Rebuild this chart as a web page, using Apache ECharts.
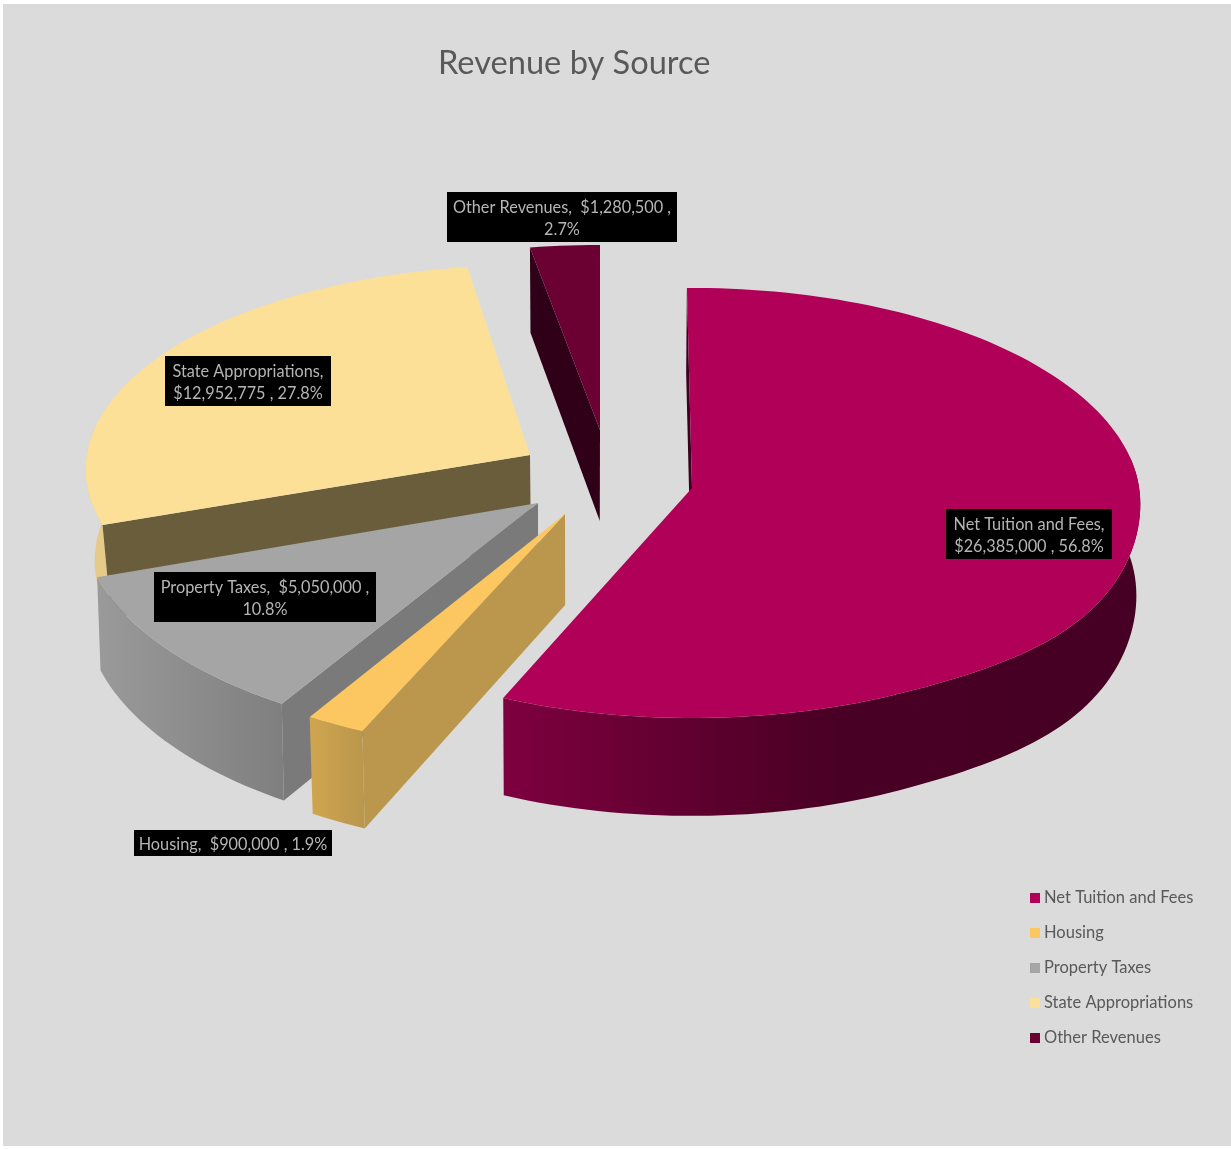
<!DOCTYPE html>
<html>
<head>
<meta charset="utf-8">
<style>
html,body{margin:0;padding:0;background:#fff;width:1231px;height:1149px;overflow:hidden}
#panel{position:absolute;left:3px;top:4px;width:1228px;height:1142px;background:#DBDBDB}
#chart{position:absolute;left:-3px;top:-4px;width:1231px;height:1149px}
</style>
<script src="https://cdn.jsdelivr.net/npm/echarts@6/dist/echarts.min.js"></script>
</head>
<body>
<div id="panel"><div id="chart"></div></div>
<script>
// ---- data ----
var categories = ['Net Tuition and Fees', 'Housing', 'Property Taxes', 'State Appropriations', 'Other Revenues'];
var revenues = [26385000, 900000, 5050000, 12952775, 1280500];
var labelLines = [
  ['Net Tuition and Fees,', '$26,385,000 , 56.8%'],
  ['Housing,  $900,000 , 1.9%'],
  ['Property Taxes,  $5,050,000 ,', '10.8%'],
  ['State Appropriations,', '$12,952,775 , 27.8%'],
  ['Other Revenues,  $1,280,500 ,', '2.7%']
];

// ---- layout and style ----
var FONT = 'Lato, "Open Sans", sans-serif';
var paintOrder = [4, 3, 2, 1, 0];
var apex = [[692, 488], [565, 514], [538, 503], [530, 455], [600, 430]];
var scaleX = [0.996, 1.04, 1.015, 0.987, 0.97];
var scaleY = [1, 1.04, 1.04, 0.95, 0.925];
var twistStart = [-0.7, 0, 1.0, 0.4, 0];
var twistEnd = [-0.7, 0, 1.0, 1.2, 0];
var frontBulge = [9, 0, 0, 0, 0];
var converge = [0.007, 0.011, 0.007, 0.018, 0.011];
var labelBox = [[946, 509, 166, 50], [134, 830, 198, 26], [154, 572, 222, 50], [165, 356, 166, 50], [447, 192, 230, 50]];
var topColor = ['#B00058', '#FCC760', '#A5A5A5', '#FDE097', '#6B0033'];
var cutColor = ['#3E001F', '#BA974C', '#7A7A7A', '#6A5D3C', '#2F0017'];
var wallStops = [
  [[0, '#7E003F'], [0.4, '#55002A'], [0.54, '#480024'], [1, '#460023']],
  [[0, '#D0A550'], [1, '#BA974C']],
  [[0, '#9A9A9A'], [0.6, '#8A8A8A'], [1, '#7F7F7F']],
  [[0, '#E6CB88'], [1, '#E6CB88']],
  [[0, '#2F0017'], [1, '#2F0017']]
];
var RX = 449, RY = 214, PERSPECTIVE = 0.0698, DEPTH = 91, CONVERGE_X = 580;

var total = revenues.reduce(function (a, b) { return a + b; }, 0);
var startDeg = [], endDeg = [];
(function () {
  var c = 0;
  revenues.forEach(function (v, i) {
    startDeg[i] = c + twistStart[i];
    c += v / total * 360;
    endDeg[i] = c + twistEnd[i];
  });
})();

function bulgeAt(i, deg) {
  if (deg <= 85 || deg >= 155) return 0;
  var s = Math.sin(Math.PI * (deg - 85) / 70);
  return frontBulge[i] * s * s;
}
function projectTop(i, deg, r) {
  var t = deg * Math.PI / 180;
  var w = 1 + PERSPECTIVE * r * Math.cos(t);
  return [
    apex[i][0] + RX * r * scaleX[i] * Math.sin(t) / w,
    apex[i][1] - RY * r * scaleY[i] * Math.cos(t) / w + r * bulgeAt(i, deg),
    w
  ];
}
function projectBottom(i, deg, r) {
  var p = projectTop(i, deg, r);
  return [p[0] - (p[0] - CONVERGE_X) * converge[i], p[1] + DEPTH / p[2]];
}
function poly(points, fill) {
  return { type: 'polygon', shape: { points: points }, style: { fill: fill }, silent: true };
}
function arcDegs(i) {
  var out = [], a = startDeg[i], b = endDeg[i], n = Math.max(2, Math.ceil((b - a) / 1.5));
  for (var k = 0; k <= n; k++) out.push(a + (b - a) * k / n);
  return out;
}

function sliceRender(i) {
  return function () {
    var degs = arcDegs(i);
    var frontDegs = degs.filter(function (d) { return Math.cos(d * Math.PI / 180) < 0.15; });
    var topArc = degs.map(function (d) { return projectTop(i, d, 1).slice(0, 2); });
    var a = projectTop(i, 0, 0).slice(0, 2), ab = projectBottom(i, 0, 0);
    var children = [];

    if (frontDegs.length > 1) {
      var wallTop = frontDegs.map(function (d) { return projectTop(i, d, 1).slice(0, 2); });
      var wallBot = frontDegs.map(function (d) { return projectBottom(i, d, 1); });
      var xs = wallTop.map(function (p) { return p[0]; });
      var minX = Math.min.apply(null, xs), maxX = Math.max.apply(null, xs);
      var wallFill = new echarts.graphic.LinearGradient(minX, 0, maxX, 0,
        wallStops[i].map(function (s) { return { offset: s[0], color: s[1] }; }), true);
      children.push(poly(wallTop.concat(wallBot.slice().reverse()), wallFill));
    }
    children.push(poly([a, topArc[0], projectBottom(i, degs[0], 1), ab], cutColor[i]));
    children.push(poly([a].concat(topArc), topColor[i]));

    // black data label
    var box = labelBox[i];
    children.push({
      type: 'rect', z2: 100, silent: true,
      shape: { x: box[0], y: box[1], width: box[2], height: box[3] },
      style: { fill: '#000' }
    });
    children.push({
      type: 'text', z2: 101, silent: true,
      style: {
        x: box[0] + box[2] / 2, y: box[1] + box[3] / 2 + 2,
        text: labelLines[i].join('\n'),
        fill: '#B5B5B5', font: '16.3px ' + FONT, lineHeight: 22,
        align: 'center', verticalAlign: 'middle'
      }
    });
    return { type: 'group', children: children };
  };
}

var chart = echarts.init(document.getElementById('chart'), null, { renderer: 'canvas' });
chart.setOption({
  backgroundColor: 'transparent',
  animation: false,
  title: {
    text: 'Revenue by Source', left: 433, top: 42,
    textStyle: { fontFamily: FONT, fontSize: 32.6, fontWeight: 'normal', color: '#595959' }
  },
  legend: {
    orient: 'vertical', left: 1025, top: 883, icon: 'rect', selectedMode: false,
    itemWidth: 10, itemHeight: 10, itemGap: 15,
    data: categories,
    textStyle: { fontFamily: FONT, fontSize: 16.5, color: '#595959', lineHeight: 20, padding: [0, 0, 0, -1] }
  },
  series: paintOrder.map(function (i) {
    return {
      type: 'custom', name: categories[i], coordinateSystem: 'none',
      itemStyle: { color: topColor[i] },
      data: [[revenues[i]]],
      renderItem: sliceRender(i), silent: true
    };
  })
});
</script>
</body>
</html>
